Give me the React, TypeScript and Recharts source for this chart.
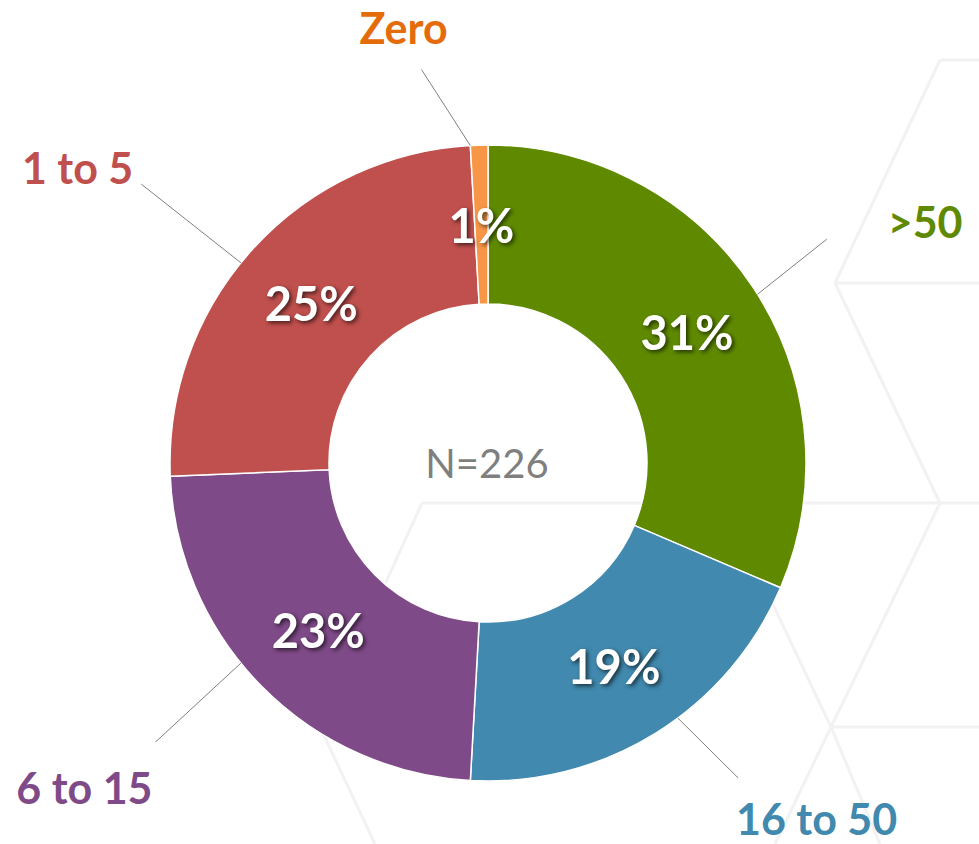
import { PieChart, Pie, Cell } from 'recharts'

// Respondents by count bucket (N=226)
const categories = ['>50', '16 to 50', '6 to 15', '1 to 5', 'Zero']
const counts = [71, 44, 53, 56, 2]
const sliceColors = ['#5f8a00', '#4189ae', '#7f4a88', '#c0504d', '#f79646']
const labelColors = ['#5f8a00', '#4189ae', '#7f4a88', '#c0504d', '#e46c0a']
const totalLabel = 'N=226'

const data = categories.map((name, i) => ({ name, value: counts[i] }))

const RAD = Math.PI / 180
const FONT = 'Lato, "Open Sans", sans-serif'

// leader line tweaks, Excel style:
// [start angle nudge, end angle nudge (deg, ccw), length past the ring]
const LEADER: Record<string, [number, number, number]> = {
  '>50': [-1.4, 0, 88],
  '16 to 50': [4.8, 6.6, 84],
  '6 to 15': [-5.6, -4.6, 116],
  '1 to 5': [3.2, 3.4, 127],
  Zero: [1.6, 8, 81],
}

interface LabelProps {
  cx: number
  cy: number
  midAngle: number
  innerRadius: number
  outerRadius: number
  percent: number
  name: string
  index: number
}

function SliceLabel({ cx, cy, midAngle, innerRadius, outerRadius, percent, name, index }: LabelProps) {
  const a = midAngle * RAD
  const mid = (innerRadius + outerRadius) / 2
  const px = cx + mid * Math.cos(a)
  const py = cy - mid * Math.sin(a)

  const [sNudge, eNudge, len] = LEADER[name] ?? [0, 0, 90]
  const sa = (midAngle + sNudge) * RAD
  const la = (midAngle + eNudge) * RAD
  const sx = cx + outerRadius * Math.cos(sa)
  const sy = cy - outerRadius * Math.sin(sa)
  const ex = cx + (outerRadius + len) * Math.cos(la)
  const ey = cy - (outerRadius + len) * Math.sin(la)

  const c = Math.cos(la)
  const upper = Math.sin(la) > 0
  let anchor: 'start' | 'middle' | 'end' = 'middle'
  let tx = ex - 18
  let ty = ey - 42
  if (c > 0.3) {
    anchor = 'start'
    tx = upper ? ex + 61 : ex - 2
    ty = upper ? ey - 18 : ey + 41
  } else if (c < -0.3) {
    anchor = 'end'
    tx = upper ? ex - 8 : ex - 3
    ty = upper ? ey - 17 : ey + 46
  }

  return (
    <g>
      <line x1={sx} y1={sy} x2={ex} y2={ey} stroke="#7f7f7f" strokeWidth={1} />
      <text
        x={tx}
        y={ty}
        textAnchor={anchor}
        dominantBaseline="central"
        fill={labelColors[index]}
        fontFamily={FONT}
        fontWeight={700}
        fontSize={43}
      >
        {name}
      </text>
      <text
        x={px}
        y={py}
        textAnchor="middle"
        dominantBaseline="central"
        fill="#fff"
        fontFamily={FONT}
        fontWeight={700}
        fontSize={47}
        style={{ filter: 'drop-shadow(2px 2px 2px rgba(0,0,0,0.65))' }}
      >
        {`${Math.round(percent * 100)}%`}
      </text>
    </g>
  )
}

// faint hexagon backdrop from the slide template
const HEX_LINES: [number, number, number, number][] = [
  [940, 60, 979, 60],
  [940, 60, 835, 283],
  [835, 283, 979, 283],
  [835, 283, 940, 503],
  [422, 503, 979, 503],
  [725, 503, 831, 727],
  [940, 503, 831, 727],
  [831, 727, 979, 727],
  [831, 727, 775, 844],
  [831, 727, 880, 844],
  [422, 503, 320, 727],
  [320, 727, 375, 844],
]

export default function App() {
  return (
    <div style={{ position: 'absolute', left: 0, top: 0, width: 979, height: 844, background: '#fff' }}>
      <svg width={979} height={844} style={{ position: 'absolute', left: 0, top: 0 }}>
        {HEX_LINES.map(([x1, y1, x2, y2], i) => (
          <line key={i} x1={x1} y1={y1} x2={x2} y2={y2} stroke="#f2f2f2" strokeWidth={3} />
        ))}
      </svg>
      <div style={{ position: 'absolute', left: 0, top: 0 }}>
        <PieChart width={979} height={844} margin={{ top: 0, right: 0, bottom: 0, left: 0 }}>
          <Pie
            data={data}
            dataKey="value"
            nameKey="name"
            cx={488}
            cy={463}
            innerRadius={159}
            outerRadius={318}
            startAngle={90}
            endAngle={-270}
            stroke="#fff"
            strokeWidth={1.5}
            label={SliceLabel}
            labelLine={false}
            isAnimationActive={false}
          >
            {data.map((d, i) => (
              <Cell key={d.name} fill={sliceColors[i]} />
            ))}
          </Pie>
          <text
            x={487}
            y={463}
            textAnchor="middle"
            dominantBaseline="central"
            fill="#7f7f7f"
            fontFamily={FONT}
            fontSize={40}
          >
            {totalLabel}
          </text>
        </PieChart>
      </div>
    </div>
  )
}
